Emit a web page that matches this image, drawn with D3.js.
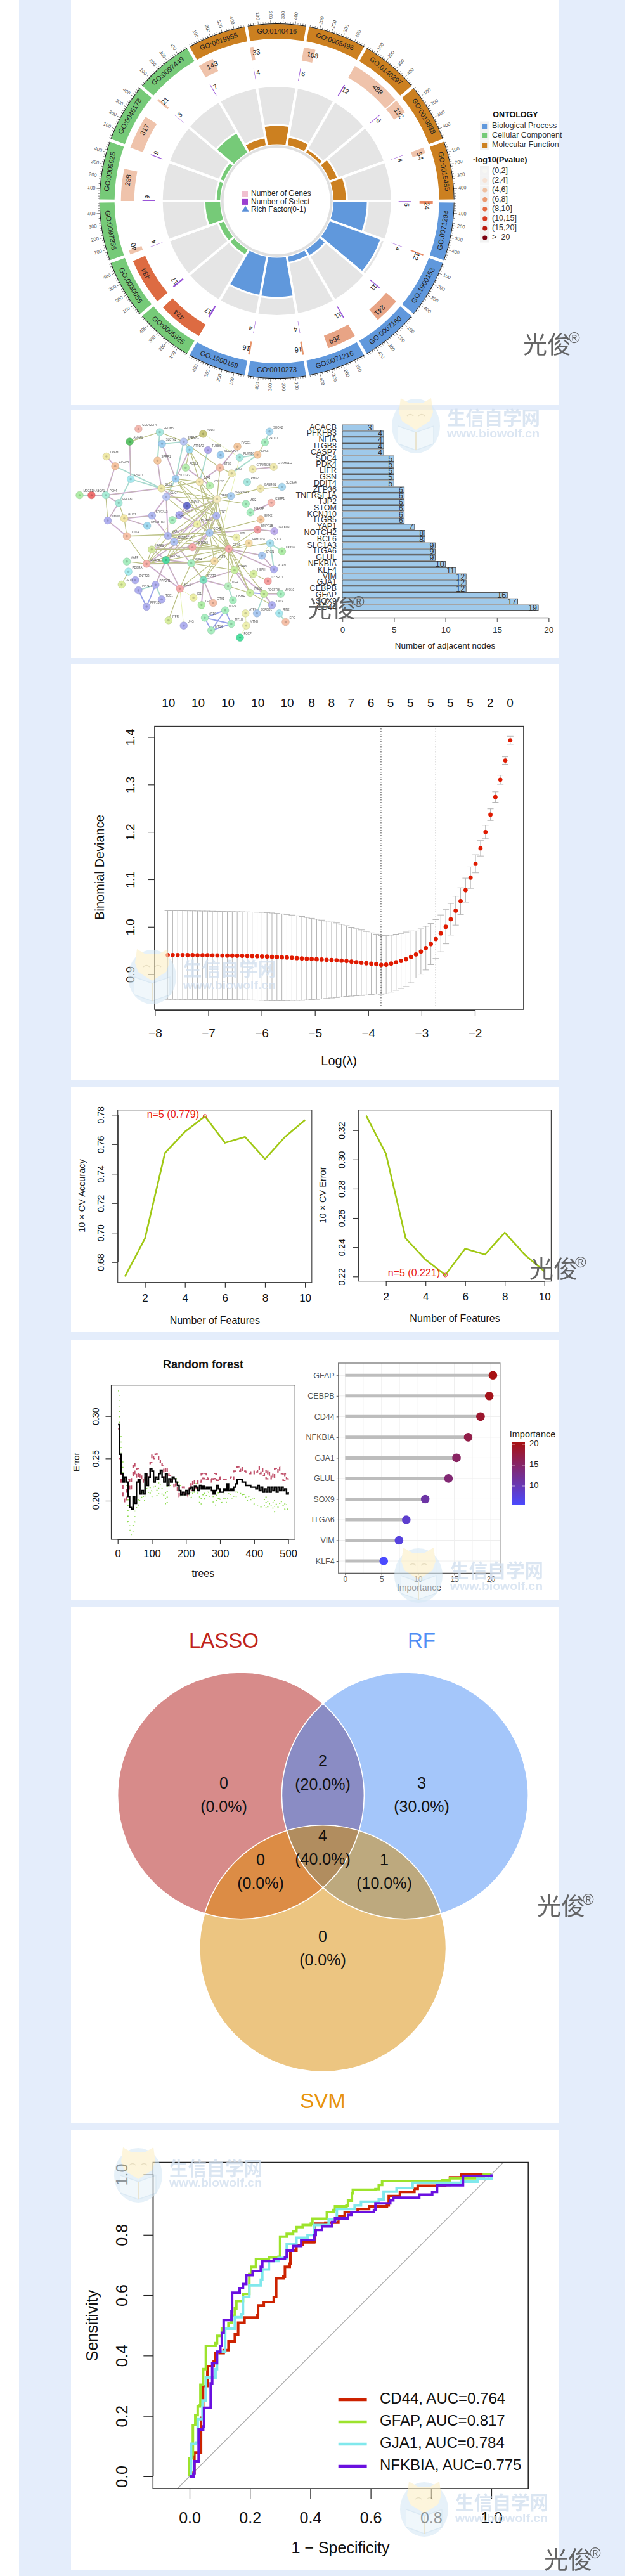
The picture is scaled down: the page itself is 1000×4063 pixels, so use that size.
<!DOCTYPE html>
<html><head><meta charset="utf-8">
<script src="https://cdn.jsdelivr.net/npm/d3@7"></script>
<style>html,body{margin:0;padding:0;background:#fff}svg{display:block}</style>
</head><body><div id="c"></div>
<script>
// ---------- GO circle ----------
const goIds=["GO:0071294","GO:1900153","GO:0007160","GO:0071216","GO:0010273","GO:1990169","GO:0005925","GO:0030055","GO:0097386","GO:0009925","GO:0045178","GO:0097449","GO:0019955","GO:0140416","GO:0005496","GO:0140297","GO:0019838","GO:0015485"];
const goOnt=["BP","BP","BP","BP","BP","BP","CC","CC","CC","CC","CC","CC","MF","MF","MF","MF","MF","MF"];
const goGenes=[24,12,241,269,16,16,424,434,40,298,317,21,143,33,108,488,132,54];
const goSelect=[5,4,11,11,4,4,17,17,4,9,9,3,7,4,6,12,6,4];
const goRich=[.59,.93,.14,.12,.69,.68,.12,.12,.28,.09,.09,.40,.15,.34,.16,.08,.16,.24];
const goBarCol=["#e88a64","#e88a64","#e8a485","#e8a485","#e8956b","#e8956b","#dd6b42","#dd6b42","#efc3ab","#efc3ab","#efc3ab","#efc3ab","#efc3ab","#efc3ab","#efc3ab","#efc3ab","#efc3ab","#efc3ab"];
const ontNames=["Biological Process","Cellular Component","Molecular Function"];
const ontCols=["#6098dc","#76ca78","#cc8020"];
const pvalBins=["(0,2]","(2,4]","(4,6]","(6,8]","(8,10]","(10,15]","(15,20]",">=20"];
const pvalCols=["#f7f7f3","#f6e2d4","#f0c0a0","#ec9a70","#e66a40","#d83a20","#b81a10","#7a0010"];
const centerKeys=["Number of Genes","Number of Select","Rich Factor(0-1)"];
// ---------- network ----------
const netNodes=[["CDC42EP4",232,140,"#f4b9b0"],["PRDM6",298,155,"#a9e8e0"],["ADD3",432,163,"#c9c77b"],["SHOX2",637,152,"#a9d8f0"],["PALLD",623,203,"#a8eec0"],["ANXA1",205,200,"#5fc46a"],["SLC7A2",305,210,"#9fcdf0"],["EFEMP1",372,200,"#b9c7f4"],["ATP1A2",390,238,"#9fdcf0"],["TUBB6",447,240,"#b0a8ec"],["FYCO1",538,223,"#f4c89f"],["SLC39A14",486,263,"#9fcdf0"],["PLXNB1",545,275,"#a9e8e0"],["EPS8",600,262,"#f6c9a0"],["DPAM",133,270,"#f0e9a8"],["ACACB",160,316,"#f6c3a0"],["SPRR1",291,290,"#f6c9a0"],["ACSL3",378,323,"#b8eeb0"],["ETS2",484,323,"#f6bfa8"],["GRAMD2B",585,330,"#f0eab0"],["GRAMD1C",650,320,"#f0eab0"],["GSN",520,350,"#eee8b0"],["PSAT1",208,377,"#a6e8ee"],["SLC1A3",347,376,"#9fcdf0"],["GJA1",421,390,"#f6e8b0"],["KCNJ10",453,408,"#b8eeb0"],["PMP2",568,391,"#a9e8e0"],["GLUL",303,421,"#eee8a8"],["GABRG1",609,422,"#f0e8b0"],["SLC9A4",676,414,"#a9d8f0"],["PDK4",131,453,"#a9eed8"],["ABCA1",87,453,"#f07070"],["MEGF10",50,453,"#b0eea8"],["CLIC4",318,461,"#bac7f4"],["GFAP",475,472,"#f6ecc0"],["SERPINA3",518,457,"#a9cef0"],["PFKFB3",171,490,"#a6e8d8"],["MSI2",564,494,"#a8eec0"],["CSRP1",643,489,"#f6b9b0"],["NRARP",578,535,"#a8eec0"],["SNAI2",382,503,"#6a70cc"],["TSC22",358,547,"#a8a8f0"],["TXNIP",137,573,"#b0b0f0"],["GLIS3",188,563,"#f4e8a8"],["SPATA13",274,550,"#b0b8f0"],["RHOBTB3",259,598,"#9fd8f0"],["ITGB8",337,571,"#a8eec0"],["TNF",473,551,"#b0b8f0"],["HOXA5",414,590,"#eef0a8"],["EMX2",610,568,"#f6c9a0"],["DDIT4",196,647,"#f6c0a8"],["YAP1",323,645,"#b0b8f0"],["TNFRSF1A",342,674,"#b0c4f4"],["SOX9",452,632,"#a9c8f0"],["ID3",535,654,"#eef0b0"],["BMPR1B",600,616,"#f09ca0"],["TGFBR3",652,624,"#c0b0ee"],["FAM107A",573,680,"#f6dca8"],["SDC4",639,680,"#a9e0f0"],["IRAK1",273,710,"#d4e8a0"],["NOTCH2",399,699,"#f6a8a8"],["CD44",511,707,"#f6a8a8"],["LRP10",676,719,"#b0eea8"],["SRGN",614,739,"#a9c8f0"],["MAFF",196,767,"#a8eec0"],["CEBPB",257,778,"#f6b0a8"],["NFKBIA",317,760,"#50d8a0"],["KLF4",395,775,"#a8eec0"],["ATF3",467,765,"#f6dca8"],["VCAN",651,804,"#b0b0f0"],["ITGA6",529,808,"#c8eea0"],["HEPH",588,825,"#d8eea0"],["CYBRD1",632,860,"#f6a0a0"],["PDGRA",201,815,"#a9eef0"],["ZNF423",222,855,"#b0b0f0"],["GPT1",180,876,"#dcee9f"],["BCL6",360,895,"#f6a8a8"],["STAT3",433,854,"#80e0c0"],["LIFR",509,884,"#b8eec0"],["PPP2R1",285,877,"#b0b0f0"],["PPP1R",232,903,"#b0b0f0"],["TOB1",304,946,"#b0b0f0"],["PPP1BL",257,981,"#b0b0f0"],["ID1",402,938,"#eef0a8"],["LFNG",427,973,"#b0eea8"],["OTX1",463,963,"#f6c0a8"],["ITGB5",577,915,"#c8eea0"],["PDGFRB",620,920,"#c8eea0"],["MYO10",672,920,"#a8eec0"],["OSMR",524,950,"#a8eec0"],["TNS3",645,973,"#b0b0f0"],["ATP6",563,1012,"#eef0b0"],["SCPBD1",598,1012,"#a9c8f0"],["RIN2",667,1012,"#a9e8f0"],["EFO",687,1053,"#f6c0a8"],["MT2A",500,998,"#a8eec0"],["MT1G",437,1033,"#a8eec0"],["MT1H",519,1062,"#a8eec0"],["MT1X",457,1093,"#a8eec0"],["ITPR",325,1045,"#d8eea0"],["UNG",372,1070,"#b0b0f0"],["MTND",565,1070,"#eef0b0"],["FOXP",546,1127,"#50e0a0"]];
const netLinksO="PRDM6-EFEMP1 ANXA1-PRDM6 EFEMP1-ADD3 EFEMP1-ETS2 ATP1A2-ACSL3 ATP1A2-GJA1 ATP1A2-KCNJ10 ETS2-GFAP GSN-GFAP GSN-ETS2 GLUL-SLC1A3 GLUL-GJA1 GLUL-GFAP SLC1A3-GJA1 SLC1A3-GFAP SLC1A3-SOX9 SLC1A3-CD44 GJA1-GFAP GJA1-CD44 GJA1-TNF GJA1-SOX9 CLIC4-CD44 CLIC4-GFAP GFAP-SERPINA3 GFAP-MSI2 GFAP-ITGB8 GFAP-TNF GFAP-SOX9 GFAP-CD44 GFAP-YAP1 GFAP-CEBPB GFAP-NFKBIA GFAP-KLF4 GABRG1-SLC9A4 GABRG1-SERPINA3 EMX2-SOX9 SOX9-ID3 SOX9-CD44 SOX9-YAP1 SOX9-TNFRSF1A SOX9-KLF4 DDIT4-SOX9 SOX9-ATF3 SOX9-ITGA6 SNAI2-TNF TNF-CD44 TNF-NFKBIA TNF-SOX9 TNF-ITGA6 TNF-ITGB5 CD44-FAM107A CD44-SDC4 CD44-ITGA6 CD44-ATF3 CD44-KLF4 CD44-NOTCH2 CD44-TNFRSF1A CD44-YAP1 CD44-IRAK1 CD44-ITGB5 CD44-LIFR CD44-STAT3 CD44-PDGFRB CD44-CEBPB CD44-BMPR1B FAM107A-ITGA6 HEPH-CYBRD1 ITGA6-LIFR GLIS3-DDIT4 DDIT4-CEBPB DDIT4-YAP1 YAP1-CEBPB TNFRSF1A-NFKBIA IRAK1-CEBPB NOTCH2-CEBPB CEBPB-MAFF CEBPB-ATF3 KLF4-BCL6 KLF4-ATF3 KLF4-STAT3 KLF4-ITGA6 ATF3-STAT3 ATF3-BCL6 BCL6-ITPR PDGRA-GPT1 PALLD-EPS8 PDK4-TXNIP PFKFB3-GLIS3 SLC1A3-TNF ITGB5-TNS3 LIFR-ITGB5".split(" ");
const netLinksP="ANXA1-PSAT1 SLC7A2-SLC1A3 ATP1A2-SLC1A3 FYCO1-ETS2 ETS2-GJA1 SPRR1-GLUL ACSL3-KCNJ10 DPAM-ACACB ACACB-PDK4 PDK4-GLUL PDK4-ABCA1 PFKFB3-TXNIP PDK4-PFKFB3 CLIC4-YAP1 CLIC4-SPATA13 GFAP-TSC22 GFAP-TNFRSF1A CSRP1-NRARP SOX9-BMPR1B BMPR1B-TGFBR3 SOX9-HOXA5 SOX9-NOTCH2 SOX9-NFKBIA TNF-CEBPB TNF-KLF4 TNF-YAP1 CD44-SRGN CD44-VCAN SRGN-VCAN ITGA6-STAT3 ITGA6-ITGB5 ITGA6-PDGFRB GLIS3-SPATA13 GLIS3-RHOBTB3 TXNIP-DDIT4 SPATA13-YAP1 YAP1-TNFRSF1A TNFRSF1A-IRAK1 TNFRSF1A-STAT3 IRAK1-NFKBIA IRAK1-NOTCH2 CEBPB-NFKBIA CEBPB-KLF4 CEBPB-BCL6 NFKBIA-KLF4 NFKBIA-PPP2R1 NFKBIA-BCL6 BCL6-STAT3 STAT3-LFNG STAT3-OTX1 STAT3-LIFR PDGFRB-MYO10 PDGFRB-TNS3 GRAMD2B-GRAMD1C SNAI2-TSC22 TSC22-HOXA5 GLUL-SNAI2".split(" ");
const netLinksG="PRDM6-SPRR1 EFEMP1-SLC1A3 EFEMP1-ATP1A2 EFEMP1-SLC7A2 TUBB6-GJA1 GSN-EPS8 PLXNB1-EPS8 ACACB-GLUL PSAT1-GLUL PSAT1-PFKFB3 SLC1A3-CLIC4 SDC4-LRP10 SDC4-VCAN LIFR-OSMR PDGFRB-SCPBD1 PPP2R1-PPP1R PPP2R1-TOB1 ABCA1-MEGF10 RIN2-EFO SHOX2-PALLD".split(" ");
const netLinksY="ADD3-PLXNB1 BCL6-ID1 BCL6-UNG SDC4-SRGN ATP6-MTND MTND-FOXP PLXNB1-ATF3 IRAK1-ITGB8".split(" ");
const netLinksB="ITGB5-PDGFRB PPP1R-PPP1BL PPP2R1-PPP1BL MT2A-MT1G MT2A-MT1H MT2A-MT1X MT1G-MT1H MT1G-MT1X MT1H-MT1X".split(" ");
// ---------- degree bars ----------
const degNames=["ACACB","PFKFB3","NFIA","ITGB8","CASP7","SDC4","PDK4","LIFR","GSN","DDIT4","ZFP36","TNFRSF1A","TJP2","STOM","KCNJ10","ITGB5","YAP1","NOTCH2","BCL6","SLC1A3","ITGA6","GLUL","NFKBIA","KLF4","VIM","GJA1","CEBPB","GFAP","SOX9","CD44"];
const degVals=[3,4,4,4,4,5,5,5,5,5,6,6,6,6,6,6,7,8,8,9,9,9,10,11,12,12,12,16,17,19];
// ---------- LASSO ----------
const lassoX=[-7.76,-7.667,-7.574,-7.481,-7.388,-7.295,-7.202,-7.108,-7.015,-6.922,-6.829,-6.736,-6.643,-6.55,-6.457,-6.364,-6.27,-6.177,-6.084,-5.991,-5.898,-5.805,-5.712,-5.619,-5.526,-5.432,-5.339,-5.246,-5.153,-5.06,-4.967,-4.874,-4.781,-4.688,-4.594,-4.501,-4.408,-4.315,-4.222,-4.129,-4.036,-3.943,-3.85,-3.757,-3.663,-3.57,-3.477,-3.384,-3.291,-3.198,-3.105,-3.012,-2.919,-2.825,-2.732,-2.639,-2.546,-2.453,-2.36,-2.267,-2.174,-2.081,-1.987,-1.894,-1.801,-1.708,-1.615,-1.522,-1.429,-1.336];
const lassoMean=[.9405,.9405,.9405,.9404,.9403,.9402,.9401,.94,.94,.9398,.9397,.9395,.9393,.9392,.939,.9388,.9385,.9383,.938,.9377,.9372,.9367,.9362,.9357,.9352,.9347,.934,.9333,.9327,.9322,.9316,.931,.9305,.93,.9295,.9287,.9278,.9265,.9253,.9243,.9232,.9222,.9215,.9198,.9202,.9225,.9253,.9281,.9315,.9366,.9416,.9478,.9551,.9636,.9742,.9861,1.0001,1.0159,1.0339,1.0541,1.0772,1.1036,1.1328,1.1655,1.1998,1.2363,1.2735,1.31,1.3505,1.3932];
const lassoSd=[.0934,.0934,.0934,.0934,.0933,.0933,.0932,.0931,.093,.0929,.0928,.0928,.0928,.0928,.0928,.0928,.0928,.0928,.0928,.0928,.0928,.0925,.092,.0915,.0908,.09,.0892,.0884,.087,.0857,.0844,.083,.0816,.08,.0785,.0765,.0745,.0725,.0705,.069,.067,.065,.063,.0619,.0613,.06,.059,.058,.0574,.0546,.0495,.0478,.0461,.0433,.041,.0388,.036,.0332,.0304,.0281,.0253,.0225,.0191,.0163,.0141,.0124,.0112,.0096,.0079,.0084];
const lassoTopX=[-7.745,-7.19,-6.63,-6.07,-5.52,-5.06,-4.69,-4.32,-3.95,-3.58,-3.21,-2.83,-2.46,-2.09,-1.71,-1.34];
const lassoTop=[10,10,10,10,10,8,8,7,6,5,5,5,5,5,2,0];
const lassoV=[-3.76,-2.733];
// ---------- SVM-RFE ----------
const features=[1,2,3,4,5,6,7,8,9,10];
const cvAcc=[.6702,.696,.754,.7685,.779,.761,.765,.75,.765,.7765];
const cvErr=[.33,.304,.246,.2315,.221,.239,.235,.25,.235,.2235];
// ---------- random forest ----------
const rfTrees=[1,5,10,15,20,25,30,35,40,45,50,55,60,65,70,75,80,85,90,95,100,105,110,115,120,125,130,135,140,145,150,155,160,165,170,175,180,185,190,195,200,205,210,215,220,225,230,235,240,245,250,255,260,265,270,275,280,285,290,295,300,305,310,315,320,325,330,335,340,345,350,355,360,365,370,375,380,385,390,395,400,405,410,415,420,425,430,435,440,445,450,455,460,465,470,475,480,485,490,495,500];
const rfOOB=[.29,.255,.232,.222,.228,.222,.205,.192,.19,.205,.197,.222,.225,.208,.212,.208,.232,.218,.228,.238,.235,.222,.228,.225,.232,.236,.228,.222,.232,.218,.226,.222,.228,.226,.222,.218,.212,.207,.21,.207,.212,.208,.214,.216,.212,.217,.216,.212,.218,.214,.217,.214,.216,.214,.216,.212,.208,.212,.218,.214,.21,.21,.214,.212,.22,.212,.214,.212,.216,.22,.225,.225,.225,.222,.222,.218,.218,.218,.216,.216,.216,.214,.218,.212,.216,.21,.214,.21,.216,.21,.216,.212,.216,.21,.216,.212,.216,.212,.214,.208,.21];
const rfRed=[.285,.25,.22,.205,.198,.215,.225,.212,.23,.245,.228,.238,.222,.232,.222,.228,.22,.232,.228,.245,.255,.25,.255,.256,.245,.248,.242,.228,.24,.232,.23,.225,.222,.215,.22,.212,.205,.212,.216,.208,.205,.212,.22,.212,.225,.218,.215,.224,.222,.232,.226,.232,.225,.227,.226,.222,.226,.232,.224,.228,.225,.226,.225,.225,.225,.225,.228,.225,.235,.238,.24,.235,.24,.234,.235,.234,.234,.232,.234,.232,.236,.234,.24,.232,.238,.23,.236,.226,.236,.226,.232,.226,.238,.234,.24,.235,.232,.224,.232,.226,.23];
const rfGreen=[.33,.28,.25,.228,.225,.21,.175,.165,.16,.175,.19,.205,.195,.2,.21,.2,.225,.21,.218,.205,.212,.225,.215,.205,.222,.218,.205,.21,.195,.222,.22,.218,.225,.228,.226,.222,.218,.205,.205,.21,.212,.205,.21,.204,.215,.21,.22,.205,.195,.205,.21,.202,.206,.21,.204,.205,.197,.195,.21,.2,.202,.198,.208,.198,.203,.21,.205,.202,.21,.205,.21,.208,.21,.205,.208,.2,.205,.204,.2,.205,.196,.195,.192,.192,.195,.195,.205,.19,.2,.193,.198,.187,.2,.192,.195,.2,.196,.19,.198,.19,.195];
const impNames=["GFAP","CEBPB","CD44","NFKBIA","GJA1","GLUL","SOX9","ITGA6","VIM","KLF4"];
const impVals=[20.3,19.8,18.6,16.9,15.3,14.2,11,8.4,7.4,5.3];
// ---------- venn ----------
const vennSets=["LASSO","RF","SVM"];
const vennCounts=["0","2","3","0","4","1","0"];
const vennPct=["(0.0%)","(20.0%)","(30.0%)","(0.0%)","(40.0%)","(10.0%)","(0.0%)"];
// ---------- ROC ----------
const rocNames=["CD44, AUC=0.764","GFAP, AUC=0.817","GJA1, AUC=0.784","NFKBIA, AUC=0.775"];
const rocCols=["#cc2200","#9de32c","#80e8ec","#6a10e0"];
const rocCD44=[[0,0],[.009,.012],[.016,.079],[.03,.079],[.038,.194],[.045,.299],[.059,.365],[.08,.38],[.086,.408],[.113,.418],[.129,.447],[.15,.47],[.161,.509],[.182,.526],[.225,.535],[.227,.566],[.246,.577],[.279,.594],[.287,.656],[.311,.661],[.316,.694],[.332,.704],[.334,.747],[.354,.766],[.375,.775],[.413,.777],[.416,.837],[.45,.84],[.493,.861],[.514,.875],[.557,.885],[.595,.894],[.654,.897],[.66,.928],[.697,.942],[.745,.952],[.756,.962],[.847,.965],[.863,.99],[.9,1],[.975,1],[1,1]];
const rocGFAP=[[0,0],[0,.06],[.009,.074],[.011,.17],[.019,.175],[.019,.203],[.027,.208],[.027,.232],[.034,.236],[.036,.303],[.045,.317],[.045,.355],[.054,.365],[.054,.432],[.086,.441],[.091,.465],[.107,.47],[.107,.489],[.129,.508],[.139,.532],[.15,.556],[.155,.58],[.177,.604],[.198,.67],[.204,.694],[.22,.72],[.263,.725],[.295,.727],[.3,.794],[.322,.803],[.343,.811],[.354,.825],[.375,.832],[.402,.837],[.407,.853],[.45,.853],[.455,.875],[.477,.882],[.482,.894],[.52,.896],[.525,.913],[.538,.937],[.541,.949],[.616,.951],[.627,.965],[.638,.978],[.836,.98],[.863,.987],[.975,1],[1,1]];
const rocGJA1=[[0,0],[.005,.108],[.021,.112],[.027,.189],[.043,.251],[.054,.327],[.086,.355],[.091,.413],[.118,.489],[.15,.527],[.172,.537],[.177,.594],[.198,.632],[.236,.651],[.241,.685],[.263,.713],[.295,.723],[.322,.77],[.354,.79],[.391,.799],[.413,.832],[.461,.851],[.488,.885],[.547,.897],[.568,.909],[.627,.917],[.643,.943],[.686,.955],[.739,.972],[.9,.976],[.954,.986],[1,1]];
const rocNFKBIA=[[0,0],[.013,.008],[.016,.05],[.03,.05],[.03,.155],[.045,.165],[.048,.227],[.07,.251],[.07,.308],[.075,.375],[.091,.413],[.102,.432],[.107,.475],[.113,.518],[.139,.546],[.141,.608],[.166,.623],[.177,.637],[.188,.666],[.209,.68],[.236,.694],[.241,.713],[.279,.72],[.316,.726],[.322,.747],[.343,.763],[.37,.783],[.413,.799],[.418,.816],[.439,.828],[.472,.842],[.482,.854],[.525,.866],[.536,.875],[.611,.882],[.616,.904],[.665,.914],[.675,.923],[.724,.923],[.761,.933],[.804,.942],[.82,.964],[.906,.964],[.906,.995],[1,1]];

// ---------- page ----------
const SANS="'Liberation Sans',Arial,sans-serif", NARROW="'Liberation Sans Narrow','Liberation Sans',sans-serif", CJK="'Noto Sans CJK SC',sans-serif";
const W=1000,H=4063;
const svg=d3.select("#c").append("svg").attr("width",W).attr("height",H).attr("viewBox",`0 0 ${W} ${H}`);
const defs=svg.append("defs");
svg.append("rect").attr("x",30).attr("y",0).attr("width",956).attr("height",H).attr("fill","#e4edfb");
const panels=[[0,638],[646,1038],[1048,1703],[1714,2101],[2113,2524],[2534,3348],[3360,4054]];
svg.selectAll("rect.p").data(panels).join("rect").attr("class","p").attr("x",112).attr("width",770).attr("y",d=>d[0]).attr("height",d=>d[1]-d[0]).attr("fill","#fff");
function T(g,x,y,s,o={}){const t=g.append("text").attr("x",x).attr("y",y).text(s).attr("font-family",o.font||SANS).attr("font-size",o.size||12).attr("fill",o.fill||"#111").attr("text-anchor",o.anchor||"start").attr("dominant-baseline",o.base||"middle");if(o.weight)t.attr("font-weight",o.weight);if(o.rot!=null)t.attr("transform",`rotate(${o.rot},${x},${y})`);return t;}
function rAxis(parent,scale,vals,side,pos,o={}){
  const first=vals[0],last=vals[vals.length-1];
  const ax=(side==="bottom"?d3.axisBottom:d3.axisLeft)(scale).tickValues(vals).tickSize(o.tick||8).tickSizeOuter(0);
  if(o.fmt)ax.tickFormat(o.fmt);
  const g=parent.append("g").attr("transform",side==="bottom"?`translate(0,${pos})`:`translate(${pos},0)`).call(ax);
  g.select(".domain").attr("d",side==="bottom"?`M${scale(first)},0.5H${scale(last)}`:`M0.5,${scale(first)}V${scale(last)}`).attr("stroke",o.color||"#333").attr("stroke-width",o.w||1.2);
  g.selectAll(".tick line").attr("stroke",o.color||"#333").attr("stroke-width",o.w||1.2);
  const tx=g.selectAll(".tick text").attr("font-family",o.font||SANS).attr("font-size",o.size||14).attr("fill",o.tc||"#111");
  if(side==="bottom")tx.attr("y",o.pad||20).attr("dy",0).attr("dominant-baseline","middle");
  else if(o.rot)tx.attr("x",0).attr("dy",0).attr("text-anchor","middle").attr("dominant-baseline","middle").attr("transform",`translate(${-(o.pad||20)},0) rotate(-90)`);
  else tx.attr("x",-(o.pad||8)).attr("dy",0).attr("dominant-baseline","middle");
  return g;
}

// ---------- Panel 1 GO circle ----------
(function(){
 const g=svg.append("g").attr("transform","translate(436.7,317)");
 const ontIdx={BP:0,CC:1,MF:2};
 const deg=a=>a*Math.PI/180;
 const startAng=i=>90+i*20;
 const valAng=d3.scaleLinear().domain([0,500]).range([0,20]);
 const rr=d3.scaleLinear().domain([0,1]).range([88,182]);
 const arc=d3.arc();
 goIds.forEach((id,i)=>{
  const s=startAng(i),col=ontCols[ontIdx[goOnt[i]]];
  g.append("path").attr("d",arc({innerRadius:88,outerRadius:182,startAngle:deg(s),endAngle:deg(s+20)})).attr("fill","#e5e5e5").attr("stroke","#fff").attr("stroke-width",4);
  g.append("path").attr("d",arc({innerRadius:88,outerRadius:rr(goRich[i]),startAngle:deg(s),endAngle:deg(s+20)})).attr("fill",col).attr("stroke","#fff").attr("stroke-width",3);
  g.append("path").attr("d",arc({innerRadius:256,outerRadius:279,startAngle:deg(s+.5),endAngle:deg(s+19.5)})).attr("fill",col);
  g.append("path").attr("d",arc({innerRadius:279,outerRadius:280,startAngle:deg(s+.5),endAngle:deg(s+19.5)})).attr("fill","#111");
  const mid=s+10,pt=(a,r)=>[r*Math.sin(deg(a)),-r*Math.cos(deg(a))];
  const [lx,ly]=pt(mid,267);
  const flip=(mid>90&&mid<270);
  T(g,lx,ly,id,{size:11,anchor:"middle",rot:flip?mid-180:mid,fill:"#222"});
  d3.range(20,481,20).forEach(v=>{
   const a=s+valAng(v),maj=v%100===0,[x1,y1]=pt(a,280),[x2,y2]=pt(a,maj?285:282.5);
   g.append("line").attr("x1",x1).attr("y1",y1).attr("x2",x2).attr("y2",y2).attr("stroke","#222").attr("stroke-width",.6);
   if(maj&&v<500){const [tx,ty]=pt(a,287);const nc=((a%360)+360)%360;const right=nc<180;
    T(g,tx,ty,String(v),{size:7.5,fill:"#555",anchor:right?"start":"end",rot:right?nc-90:nc+90});}
  });
  // genes
  const ga=valAng(goGenes[i]);
  g.append("path").attr("d",arc({innerRadius:225,outerRadius:246,startAngle:deg(s),endAngle:deg(s+ga)})).attr("fill",goBarCol[i]);
  const la=s+ga*.55+1.4,[gx,gy]=pt(la,236);
  T(g,gx,gy,goGenes[i],{size:11,anchor:"middle",rot:la,fill:"#222"});
  // select
  const sa=valAng(goSelect[i]);
  g.append("path").attr("d",arc({innerRadius:192,outerRadius:212,startAngle:deg(s),endAngle:deg(s+sa)})).attr("fill","#9a55d8");
  const la2=s+sa/2+1.6,[sx,sy]=pt(la2,204);
  T(g,sx,sy,goSelect[i],{size:10.5,anchor:"middle",rot:la2,fill:"#222"});
 });
 g.append("circle").attr("r",86).attr("fill","none").attr("stroke","#e0e0e0").attr("stroke-width",4);
 // centre key
 const k=svg.append("g");
 const ky=[306,318.4,330.6],kc=["#f0c0d0","#9b40d0"];
 centerKeys.forEach((t,i)=>{
  if(i<2)k.append("rect").attr("x",382).attr("y",ky[i]-4.5).attr("width",9).attr("height",9).attr("fill",kc[i]);
  else k.append("path").attr("d",d3.symbol(d3.symbolTriangle,50)()).attr("transform",`translate(387,${ky[i]})`).attr("fill","#5a8fd8");
  T(k,396,ky[i],t,{size:12,font:NARROW,fill:"#222"});
 });
 // right legends
 const L=svg.append("g");
 T(L,813,181.6,"ONTOLOGY",{size:12.5,weight:"bold",anchor:"middle",font:NARROW});
 [199,214,229].forEach((y,i)=>{L.append("rect").attr("x",757).attr("y",y-7.5).attr("width",15).attr("height",15).attr("fill","#f2f2f2");
  L.append("rect").attr("x",760.7).attr("y",y-4).attr("width",7.5).attr("height",8).attr("fill",ontCols[i]);T(L,776,y,ontNames[i],{size:12.5,font:NARROW,fill:"#333"});});
 T(L,746,252.6,"-log10(Pvalue)",{size:12.5,weight:"bold",font:NARROW});
 [269.4,284.5,300,314.7,329.8,344.9,360,375].forEach((y,i)=>{L.append("rect").attr("x",757).attr("y",y-7.5).attr("width",15).attr("height",15).attr("fill","#f2f2f2");
  L.append("circle").attr("cx",764.8).attr("cy",y).attr("r",3.6).attr("fill",pvalCols[i]);T(L,776,y,pvalBins[i],{size:12.5,font:NARROW,fill:"#333"});});
})();

// ---------- Panel 2 network ----------
(function(){
 const fx=d3.scaleLinear().domain([0,1568]).range([100,900]);
 const fy=d3.scaleLinear().domain([0,1260]).range([630,1050]);
 const g=svg.append("g");
 defs.append("filter").attr("id","soft").append("feGaussianBlur").attr("stdDeviation",.4);
 g.attr("filter","url(#soft)");
 const links=g.append("g").attr("opacity",.7);
 const byName=new Map(netNodes.map(n=>[n[0],n]));
 const draw=(list,layers)=>list.forEach(l=>{const [a,b]=l.split("-").map(k=>byName.get(k));if(!a||!b)return;
   layers.forEach(s=>links.append("line").attr("x1",fx(a[1])).attr("y1",fy(a[2])).attr("x2",fx(b[1])).attr("y2",fy(b[2])).attr("stroke",s[0]).attr("stroke-width",s[1]));});
 draw(netLinksY,[["#dcec90",1]]);
 draw(netLinksG,[["#8fdcb8",2],["#7aa8c8",.6]]);
 draw(netLinksP,[["#c890d8",2],["#8aa050",.6]]);
 draw(netLinksO,[["#c4d080",1.3],["#7c7c30",.6]]);
 draw(netLinksB,[["#6a78e0",1.8]]);
 netNodes.forEach(n=>{const x=fx(n[1]),y=fy(n[2]),c=d3.color(n[3]);
  g.append("circle").attr("cx",x).attr("cy",y).attr("r",5.8).attr("fill",n[3]).attr("stroke",c.darker(.5)).attr("stroke-width",.6);
  g.append("circle").attr("cx",x).attr("cy",y).attr("r",1.8).attr("fill",c.darker(1.2)).attr("opacity",.5);
  T(g,x+6,y-6,n[0],{size:4.5,font:NARROW,fill:"#555"});
 });
 // degree bars
 const B=svg.append("g");
 const x=d3.scaleLinear().domain([0,20]).range([540,865.3]);
 const y=d3.scalePoint().domain(degNames).range([674.3,958.3]);
 B.selectAll("rect").data(degNames).join("rect").attr("x",x(0)).attr("y",d=>y(d)-4.2).attr("height",8.4).attr("width",(d,i)=>x(degVals[i])-x(0)).attr("fill","#9fc9ea").attr("stroke","#555").attr("stroke-width",1);
 degNames.forEach((n,i)=>{T(B,531,y(n),n,{size:12.5,font:NARROW,anchor:"end",fill:"#333"});T(B,x(degVals[i])-2,y(n)+1,degVals[i],{size:12.5,font:NARROW,anchor:"end",fill:"#333"});});
 rAxis(B,x,[0,5,10,15,20],"bottom",974,{tick:7,pad:20,size:13.5,font:NARROW,color:"#777",w:1.6,tc:"#333"});
 T(B,702,1019,"Number of adjacent nodes",{size:13.5,font:NARROW,anchor:"middle",fill:"#222"});
})();

// ---------- Panel 3 LASSO ----------
(function(){
 const g=svg.append("g");
 const x=d3.scaleLinear().domain([-8,-2]).range([244.4,749]);
 const y=d3.scaleLinear().domain([.9,1.4]).range([1536.6,1162.5]);
 g.append("rect").attr("x",243.9).attr("y",1145.6).attr("width",582).attr("height",446.4).attr("fill","none").attr("stroke","#333").attr("stroke-width",1.5);
 lassoX.forEach((v,i)=>{const c=x(v),u=y(lassoMean[i]+lassoSd[i]),l=y(lassoMean[i]-lassoSd[i]);
  g.append("path").attr("d",`M${c},${u}V${l}M${c-5},${u}H${c+5}M${c-5},${l}H${c+5}`).attr("fill","none").attr("stroke","#b4b4b4").attr("stroke-width",1);});
 lassoV.forEach(v=>g.append("line").attr("x1",x(v)).attr("x2",x(v)).attr("y1",1149).attr("y2",1589).attr("stroke","#333").attr("stroke-dasharray","1.5,2.5").attr("stroke-width",1));
 g.selectAll("circle").data(lassoX).join("circle").attr("cx",d=>x(d)).attr("cy",(d,i)=>y(lassoMean[i])).attr("r",3.4).attr("fill","#e01a00");
 lassoTopX.forEach((v,i)=>T(g,x(v),1110,lassoTop[i],{size:19,anchor:"middle",font:SANS}));
 rAxis(g,x,[-8,-7,-6,-5,-4,-3,-2],"bottom",1593,{tick:9,pad:38,size:19,fmt:d3.format("d")});
 rAxis(g,y,[.9,1,1.1,1.2,1.3,1.4],"left",243.5,{tick:10,pad:37,size:19,rot:true,fmt:d3.format(".1f")});
 T(g,534.7,1675,"Log(λ)",{size:20,anchor:"middle"});
 T(g,158.7,1368,"Binomial Deviance",{size:20,anchor:"middle",rot:-90});
})();

// ---------- Panel 4 RFE ----------
(function(){
 const draw=(xr,yr,vals,box,yt,ylab,ylx,ytp,lab,labAnchorX,labY,tX,tY)=>{
  const g=svg.append("g");
  const x=d3.scaleLinear().domain([2,10]).range(xr),y=d3.scaleLinear().domain(yt.dom).range(yr);
  g.append("rect").attr("x",box[0]).attr("y",box[1]).attr("width",box[2]-box[0]).attr("height",box[3]-box[1]).attr("fill","none").attr("stroke","#444").attr("stroke-width",1.2);
  g.append("path").datum(features).attr("d",d3.line().x(d=>x(d)).y((d,i)=>y(vals[i]))).attr("fill","none").attr("stroke","#a0c814").attr("stroke-width",2.6);
  g.append("circle").attr("cx",x(5)).attr("cy",y(vals[4])).attr("r",3).attr("fill","none").attr("stroke","#e8303a").attr("stroke-width",1);
  T(g,labAnchorX,labY,lab,{size:16,font:NARROW,anchor:"end",fill:"#e8201a"});
  rAxis(g,x,[2,4,6,8,10],"bottom",box[3],{tick:8,pad:26,size:17,font:NARROW,fmt:d3.format("d")});
  rAxis(g,y,yt.vals,"left",box[0],{tick:9,pad:ytp,size:14,rot:true,fmt:d3.format(".2f")});
  T(g,ylx,yt.c,ylab,{size:14.5,anchor:"middle",rot:-90,fill:"#222"});
  T(g,tX,tY,"Number of Features",{size:16,font:NARROW,anchor:"middle"});
 };
 draw([228.6,481.1],[1990.7,1758.3],cvAcc,[185.7,1750.7,491.8,2022.7],{dom:[.68,.78],vals:[.68,.7,.72,.74,.76,.78],c:1886},"10 × CV Accuracy",130,25,"n=5 (0.779)",314,1759,338.8,2084);
 draw([608.7,858.7],[2013.3,1782.7],cvErr,[565.3,1750.7,869.4,2020.7],{dom:[.22,.32],vals:[.22,.24,.26,.28,.3,.32],c:1885},"10 × CV Error",510,25,"n=5 (0.221)",694,2009,717.5,2081);
})();

// ---------- Panel 5 forest + lollipop ----------
(function(){
 const g=svg.append("g");
 const x=d3.scaleLinear().domain([0,500]).range([185.7,454.6]);
 const y=d3.scaleLinear().domain([.2,.3]).range([2367,2233.7]);
 T(g,320.4,2153,"Random forest",{size:18,font:NARROW,weight:"bold",anchor:"middle"});
 g.append("rect").attr("x",175.5).attr("y",2184.7).attr("width",289.8).attr("height",243.3).attr("fill","none").attr("stroke","#333").attr("stroke-width",1.2);
 const ln=v=>d3.line().x((d,i)=>x(d)).y((d,i)=>y(v[i])).curve(d3.curveStepAfter)(rfTrees);
 g.append("path").attr("d",ln(rfGreen)).attr("fill","none").attr("stroke","#8fdc50").attr("stroke-width",2).attr("stroke-dasharray","1.5,7");
 g.append("path").attr("d",ln(rfRed)).attr("fill","none").attr("stroke","#c0506a").attr("stroke-width",2.2).attr("stroke-dasharray","6,6");
 g.append("path").attr("d",ln(rfOOB)).attr("fill","none").attr("stroke","#000").attr("stroke-width",2.4);
 rAxis(g,x,[0,100,200,300,400,500],"bottom",2428,{tick:8,pad:24,size:16.5,font:NARROW});
 rAxis(g,y,[.2,.25,.3],"left",175.5,{tick:9,pad:23,size:14,rot:true,fmt:d3.format(".2f")});
 T(g,320.4,2482.7,"trees",{size:16,font:NARROW,anchor:"middle"});
 T(g,121.4,2306,"Error",{size:13.5,anchor:"middle",rot:-90,fill:"#222"});
 // lollipop
 const L=svg.append("g");
 const X=d3.scaleLinear().domain([0,20]).range([544.4,774]);
 const Y=d3.scalePoint().domain(impNames).range([2169.3,2462]);
 const col=d3.scaleLinear().domain([5.3,20.5]).range(["#4a4aff","#a81010"]);
 d3.range(2.5,22.5,2.5).filter(v=>X(v)<788).forEach(v=>L.append("line").attr("x1",X(v)).attr("x2",X(v)).attr("y1",2150).attr("y2",2481).attr("stroke","#eeeeee").attr("stroke-width",v%5?.6:1));
 L.append("line").attr("x1",X(0)).attr("x2",X(0)).attr("y1",2150).attr("y2",2481).attr("stroke","#eeeeee");
 impNames.forEach((n,i)=>{
  L.append("line").attr("x1",533.7).attr("x2",788.8).attr("y1",Y(n)).attr("y2",Y(n)).attr("stroke","#eeeeee");
  L.append("line").attr("x1",X(0)).attr("x2",X(impVals[i])).attr("y1",Y(n)).attr("y2",Y(n)).attr("stroke","#bdbdbd").attr("stroke-width",5);
  L.append("circle").attr("cx",X(impVals[i])).attr("cy",Y(n)).attr("r",6.8).attr("fill",col(impVals[i]));
 });
 L.append("rect").attr("x",533.7).attr("y",2150).attr("width",255.1).attr("height",331.3).attr("fill","none").attr("stroke","#777").attr("stroke-width",1.3);
 rAxis(L,X,[0,5,10,15,20],"bottom",2481.3,{tick:3,pad:11,size:12,font:NARROW,color:"#555",tc:"#555"});
 const ay=d3.axisLeft(Y).tickSize(3);
 const ga=L.append("g").attr("transform","translate(533.7,0)").call(ay);ga.select(".domain").remove();
 ga.selectAll("line").attr("stroke","#555");ga.selectAll("text").attr("font-family",NARROW).attr("font-size",12.5).attr("fill","#555");
 T(L,661,2505,"Importance",{size:14,font:NARROW,anchor:"middle",fill:"#222"});
 T(L,840,2263,"Importance",{size:14.5,font:NARROW,anchor:"middle",fill:"#222"});
 const gr=defs.append("linearGradient").attr("id","impg").attr("x1",0).attr("x2",0).attr("y1",0).attr("y2",1);
 [0,.25,.5,.75,1].forEach(t=>gr.append("stop").attr("offset",t).attr("stop-color",col(20.5-t*15.2)));
 L.append("rect").attr("x",808).attr("y",2274).attr("width",20).attr("height",100).attr("fill","url(#impg)");
 const ly=d3.scaleLinear().domain([20,15,10]).range([2278,2311,2344]);
 [20,15,10].forEach(v=>{T(L,835,ly(v),v,{size:13,font:NARROW,fill:"#222"});
  [808,824].forEach(a=>L.append("line").attr("x1",a).attr("x2",a+4).attr("y1",ly(v)).attr("y2",ly(v)).attr("stroke","#fff").attr("opacity",.6));});
})();

// ---------- Panel 6 venn ----------
(function(){
 const g=svg.append("g");
 const C=[[380,2832.3],[638.8,2832.3],[509.2,3073.2]],R=194.4;
 const cols=["#d78b8a","#a4c6fa","#ecc581"];
 C.forEach((c,i)=>{defs.append("clipPath").attr("id","vc"+i).append("circle").attr("cx",c[0]).attr("cy",c[1]).attr("r",R);});
 C.forEach((c,i)=>g.append("circle").attr("cx",c[0]).attr("cy",c[1]).attr("r",R).attr("fill",cols[i]));
 const over=(a,b,col,third)=>{let gg=g.append("g").attr("clip-path",`url(#vc${a})`);
   gg=gg.append("g").attr("clip-path",`url(#vc${b})`);
   if(third!=null)gg=gg.append("g").attr("clip-path",`url(#vc${third})`);
   gg.append("rect").attr("x",100).attr("y",2600).attr("width",800).attr("height",700).attr("fill",col);};
 over(0,1,"#8a8cc4");over(0,2,"#dc8c45");over(1,2,"#bda97e");over(0,1,"#b18d5f",2);
 C.forEach(c=>g.append("circle").attr("cx",c[0]).attr("cy",c[1]).attr("r",R).attr("fill","none").attr("stroke","#fff").attr("stroke-width",1.6));
 const pos=[[353,2814],[509,2779],[665,2814],[411,2935.6],[509,2897],[606,2935.6],[509,3056]];
 pos.forEach((p,i)=>{T(g,p[0],p[1],vennCounts[i],{size:25,anchor:"middle",fill:"#111"});T(g,p[0],p[1]+37,vennPct[i],{size:25,anchor:"middle",fill:"#111"});});
 T(g,353,2590,vennSets[0],{size:33,anchor:"middle",fill:"#c0231a"});
 T(g,665,2590,vennSets[1],{size:33,anchor:"middle",fill:"#4f8ef5"});
 T(g,509,3316,vennSets[2],{size:33,anchor:"middle",fill:"#e8940c"});
})();

// ---------- Panel 7 ROC ----------
(function(){
 const g=svg.append("g");
 const x=d3.scaleLinear().domain([0,1]).range([299,775]);
 const y=d3.scaleLinear().domain([0,1]).range([3905.9,3429.5]);
 defs.append("clipPath").attr("id","rocc").append("rect").attr("x",241.3).attr("y",3410.5).attr("width",591.9).attr("height",514.5);
 g.append("line").attr("clip-path","url(#rocc)").attr("x1",x(-.1)).attr("y1",y(-.1)).attr("x2",x(1.1)).attr("y2",y(1.1)).attr("stroke","#aaa").attr("stroke-width",1.2);
 [rocCD44,rocGFAP,rocGJA1,rocNFKBIA].forEach((d,i)=>{
  g.append("path").attr("d",d3.line().x(p=>x(p[0])).y(p=>y(p[1])).curve(d3.curveStepAfter)(d)).attr("fill","none").attr("stroke",rocCols[i]).attr("stroke-width",4);});
 g.append("rect").attr("x",241.3).attr("y",3410.5).attr("width",591.9).attr("height",514.5).attr("fill","none").attr("stroke","#222").attr("stroke-width",1.5);
 rAxis(g,x,[0,.2,.4,.6,.8,1],"bottom",3925,{tick:16,pad:48,size:25,fmt:d3.format(".1f"),color:"#222"});
 rAxis(g,y,[0,.2,.4,.6,.8,1],"left",241.3,{tick:15,pad:47,size:25,rot:true,fmt:d3.format(".1f"),color:"#222"});
 T(g,537,4020,"1 − Specificity",{size:25,anchor:"middle"});
 T(g,147,3668,"Sensitivity",{size:25,anchor:"middle",rot:-90});
 [3785,3820,3855,3890].forEach((yy,i)=>{g.append("line").attr("x1",533.7).attr("x2",578.6).attr("y1",yy).attr("y2",yy).attr("stroke",rocCols[i]).attr("stroke-width",4.5);
  T(g,599,yy,rocNames[i],{size:24});});
})();

// ---------- watermarks ----------
function biowolf(cx,cy,tx,ty1,ty2){
 const g=svg.append("g").attr("pointer-events","none").attr("opacity",.8);
 const l=g.append("g").attr("transform",`translate(${cx},${cy})`).attr("opacity",.75);
 l.append("ellipse").attr("rx",38).attr("ry",43).attr("fill","#d6e8f4");
 l.append("path").attr("d",d3.line()([[-27,-22],[-24,-44],[-10,-36],[10,-36],[24,-44],[27,-22],[22,-8],[0,6],[-22,-8]])).attr("fill","#fbeec4");
 l.append("path").attr("d",d3.line()([[-28,0],[0,10],[28,0],[28,28],[0,38],[-28,28]])).attr("fill","#e6f2f9").attr("stroke","#c3dbec").attr("stroke-width",1.5);
 l.append("path").attr("d","M-14,-16q5,-5 10,0M4,-16q5,-5 10,0M0,10V38").attr("fill","none").attr("stroke","#d8c898").attr("stroke-width",1.5);
 T(g,tx,ty1,"生信自学网",{size:29.5,font:CJK,weight:"bold",fill:"#d3e0f0"}).attr("textLength",147).attr("lengthAdjust","spacingAndGlyphs");
 T(g,tx,ty2,"www.biowolf.cn",{size:19,font:SANS,weight:"bold",fill:"#d3e0f0"}).attr("textLength",146).attr("lengthAdjust","spacingAndGlyphs");
}
biowolf(656,672,705,662,685);
biowolf(240,1541,289,1531,1555);
biowolf(660,2485,710,2480,2503);
biowolf(218,3431,267,3423,3444);
biowolf(669,3958,718,3950,3973);
function mark(x,y){const g=svg.append("g");
 T(g,x,y,"光俊",{size:38,font:CJK,fill:"#555"}).attr("opacity",.9);
 T(g,x+72,y-12,"®",{size:24,font:SANS,fill:"#555"}).attr("opacity",.9);}
mark(825,547);mark(485,963);mark(835,2005);mark(847,3010);mark(858,4041);
</script></body></html>
